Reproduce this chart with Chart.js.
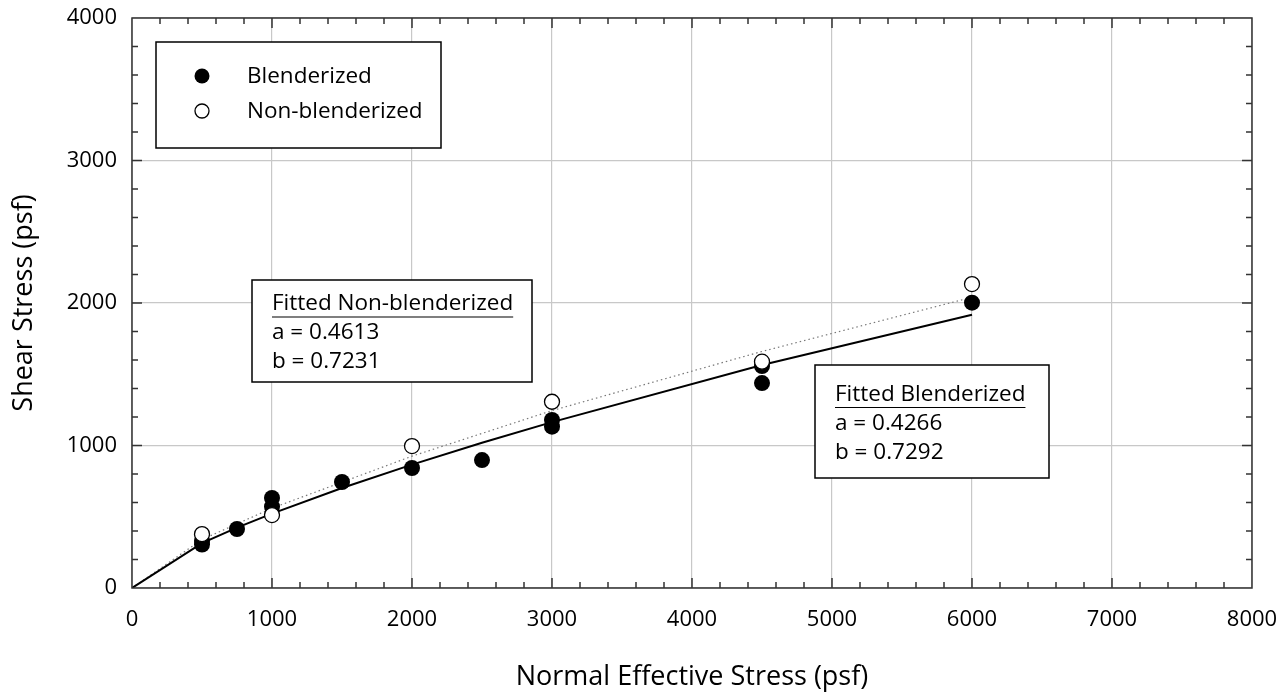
<!DOCTYPE html>
<html>
<head>
<meta charset="utf-8">
<script src="https://cdn.jsdelivr.net/npm/chart.js@4.4.1/dist/chart.umd.min.js"></script>
<style>
  html, body { margin: 0; padding: 0; background: #fff; }
  #wrap { width: 1285px; height: 698px; }
</style>
</head>
<body>
<div id="wrap"><canvas id="grafico"></canvas></div>
<script>
// datos
const blendX = [500, 500, 750, 1000, 1000, 1500, 2000, 2500, 3000, 3000, 4500, 4500, 6000];
const blendY = [305, 330, 414, 570, 632, 744, 842, 898, 1132, 1179, 1438, 1558, 2002];
const nonBlendX = [500, 1000, 2000, 3000, 4500, 6000];
const nonBlendY = [378, 512, 996, 1307, 1588, 2133];
const fitBlendX = [0, 500, 750, 1000, 1500, 2000, 2500, 3000, 4500, 6000];
const fitBlendY = [0, 315, 424, 522, 702, 866, 1019, 1164, 1565, 1918];
const fitNonBlendX = [0, 500, 1000, 2000, 3000, 4500, 6000];
const fitNonBlendY = [0, 340, 560, 925, 1245, 1660, 2040];
const xTicks = [0, 1000, 2000, 3000, 4000, 5000, 6000, 7000, 8000];
const yTicks = [0, 1000, 2000, 3000, 4000];
const seriesNames = ['Blenderized', 'Non-blenderized'];
const fitNotes = [
    { title: 'Fitted Non-blenderized', a: 'a = 0.4613', b: 'b = 0.7231' },
    { title: 'Fitted Blenderized', a: 'a = 0.4266', b: 'b = 0.7292' }
];

const fuente = "'Open Sans', Lato, sans-serif";

function puntos(xs, ys) {
    return xs.map((x, i) => ({ x: x, y: ys[i] }));
}

const marcosPlugin = {
    id: 'marcos',
    afterDraw(chart) {
        const ctx = chart.ctx;
        const area = chart.chartArea;
        const sx = chart.scales.x;
        const sy = chart.scales.y;
        ctx.save();
        // marco y ticks hacia dentro
        ctx.strokeStyle = '#333';
        ctx.lineWidth = 1.5;
        ctx.strokeRect(area.left, area.top, area.right - area.left, area.bottom - area.top);
        ctx.beginPath();
        for (let v = 200; v < 8000; v += 200) {
            const p = sx.getPixelForValue(v);
            const len = v % 1000 === 0 ? 10 : 6;
            ctx.moveTo(p, area.bottom); ctx.lineTo(p, area.bottom - len);
            ctx.moveTo(p, area.top); ctx.lineTo(p, area.top + len);
        }
        for (let v = 200; v < 4000; v += 200) {
            const p = sy.getPixelForValue(v);
            const len = v % 1000 === 0 ? 10 : 6;
            ctx.moveTo(area.left, p); ctx.lineTo(area.left + len, p);
            ctx.moveTo(area.right, p); ctx.lineTo(area.right - len, p);
        }
        ctx.stroke();

        // leyenda
        ctx.fillStyle = '#fff';
        ctx.fillRect(156, 42, 285, 106);
        ctx.strokeStyle = '#000';
        ctx.lineWidth = 1.5;
        ctx.strokeRect(156, 42, 285, 106);
        ctx.font = '22.5px ' + fuente;
        ctx.textBaseline = 'middle';
        ctx.textAlign = 'left';
        ctx.beginPath();
        ctx.arc(202, 76, 7.5, 0, Math.PI * 2);
        ctx.fillStyle = '#000';
        ctx.fill();
        ctx.beginPath();
        ctx.arc(202, 111, 7, 0, Math.PI * 2);
        ctx.fillStyle = '#fff';
        ctx.fill();
        ctx.lineWidth = 1.3;
        ctx.stroke();
        ctx.fillStyle = '#000';
        ctx.fillText(seriesNames[0], 247, 77);
        ctx.fillText(seriesNames[1], 247, 112);

        // cuadros de ajuste
        const cajas = [
            { x: 252, y: 280, w: 280, h: 102, n: fitNotes[0] },
            { x: 815, y: 365, w: 234, h: 113, n: fitNotes[1] }
        ];
        cajas.forEach(c => {
            ctx.fillStyle = '#fff';
            ctx.fillRect(c.x, c.y, c.w, c.h);
            ctx.strokeStyle = '#000';
            ctx.lineWidth = 1.5;
            ctx.strokeRect(c.x, c.y, c.w, c.h);
            ctx.fillStyle = '#000';
            const tx = c.x + 20;
            const y0 = c.y + (c.h - 102) / 2 + 24;
            ctx.fillText(c.n.title, tx, y0);
            const w = ctx.measureText(c.n.title).width;
            ctx.lineWidth = 1.2;
            ctx.beginPath();
            ctx.moveTo(tx, y0 + 13); ctx.lineTo(tx + w, y0 + 13);
            ctx.stroke();
            ctx.fillText(c.n.a, tx, y0 + 29);
            ctx.fillText(c.n.b, tx, y0 + 58);
        });
        ctx.restore();
    }
};

const chart = new Chart(document.getElementById('grafico').getContext('2d'), {
    type: 'scatter',
    data: {
        datasets: [
            {
                label: seriesNames[1],
                data: puntos(nonBlendX, nonBlendY),
                pointRadius: 7.5,
                pointBackgroundColor: '#fff',
                pointBorderColor: '#000',
                pointBorderWidth: 1.3,
                showLine: false,
                order: 0
            },
            {
                label: seriesNames[0],
                data: puntos(blendX, blendY),
                pointRadius: 8,
                pointBackgroundColor: '#000',
                pointBorderColor: '#000',
                pointBorderWidth: 0,
                showLine: false,
                order: 1
            },
            {
                label: 'Fitted Non-blenderized',
                data: puntos(fitNonBlendX, fitNonBlendY),
                showLine: true,
                borderColor: '#777',
                borderWidth: 1.2,
                borderDash: [1.5, 3],
                pointRadius: 0,
                order: 3
            },
            {
                label: 'Fitted Blenderized',
                data: puntos(fitBlendX, fitBlendY),
                showLine: true,
                borderColor: '#000',
                borderWidth: 2,
                pointRadius: 0,
                order: 2
            }
        ]
    },
    options: {
        responsive: true,
        maintainAspectRatio: false,
        animation: false,
        layout: { padding: { left: 0, top: 18, right: 33, bottom: 0 } },
        plugins: {
            legend: { display: false },
            tooltip: { enabled: false }
        },
        scales: {
            x: {
                type: 'linear',
                min: 0,
                max: 8000,
                afterBuildTicks: s => { s.ticks = xTicks.map(v => ({ value: v })); },
                afterFit: s => { s.height = 110; s.paddingLeft = 0; s.paddingRight = 0; },
                grid: { color: '#c8c8c8', lineWidth: 1.2, drawTicks: false },
                border: { display: false },
                ticks: {
                    color: '#000', padding: 19, maxRotation: 0,
                    font: { family: fuente, size: 22 },
                    callback: v => String(v)
                },
                title: {
                    display: true,
                    text: 'Normal Effective Stress (psf)',
                    color: '#000',
                    font: { family: fuente, size: 27 },
                    padding: { top: 0, bottom: 4 }
                }
            },
            y: {
                type: 'linear',
                min: 0,
                max: 4000,
                afterBuildTicks: s => { s.ticks = yTicks.map(v => ({ value: v })); },
                afterFit: s => { s.width = 132; s.paddingTop = 0; s.paddingBottom = 0; },
                grid: { color: '#c8c8c8', lineWidth: 1.2, drawTicks: false },
                border: { display: false },
                ticks: {
                    color: '#000', padding: 15,
                    font: { family: fuente, size: 22 },
                    callback: v => String(v)
                },
                title: {
                    display: true,
                    text: 'Shear Stress (psf)',
                    color: '#000',
                    font: { family: fuente, size: 27 },
                    padding: { top: 8, bottom: 0 }
                }
            }
        }
    },
    plugins: [marcosPlugin]
});
</script>
</body>
</html>
